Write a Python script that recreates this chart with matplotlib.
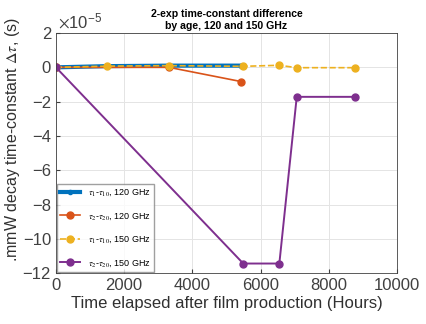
import matplotlib
matplotlib.use('Agg')
import matplotlib.pyplot as plt

plt.rcParams['font.family'] = ['Liberation Sans', 'DejaVu Sans']
plt.rcParams['mathtext.fontset'] = 'stix'

# hours after film production
t120 = [0, 1500, 3314, 5430]
t120_b = [0, 3314, 5430]
t150 = [0, 1500, 3314, 5490, 6548, 7058, 8768]
t150_b = [0, 5490, 6548, 7058, 8768]

# time-constant differences, units of 1e-5 s
d1_120 = [0.0, 0.07, 0.1, 0.1]
d2_120 = [0.0, 0.0, -0.83]
d1_150 = [0.0, 0.07, 0.1, 0.06, 0.12, -0.02, -0.02]
d2_150 = [0.0, -11.44, -11.44, -1.72, -1.72]

labels = [r'$\tau_1$-$\tau_{10}$, 120 GHz',
          r'$\tau_2$-$\tau_{20}$, 120 GHz',
          r'$\tau_1$-$\tau_{10}$, 150 GHz',
          r'$\tau_2$-$\tau_{20}$, 150 GHz']

fig = plt.figure(figsize=(4.27, 3.24), dpi=100)
ax = fig.add_axes([0.131, 0.157, 0.799, 0.741])

ax.plot(t120, d1_120, '-o', color='#0072BD', lw=3, ms=3, label=labels[0])
ax.plot(t120_b, d2_120, '-o', color='#D95319', lw=1.2, ms=5, label=labels[1])
ax.plot(t150, d1_150, '--o', color='#EDB120', lw=1.2, ms=5, label=labels[2])
ax.plot(t150_b, d2_150, '-o', color='#7E2F8E', lw=1.4, ms=5, label=labels[3])

ax.set_xlim(0, 10000)
ax.set_ylim(-12, 2)
ax.set_xticks(range(0, 10001, 2000))
ax.set_yticks(range(-12, 3, 2))
ax.text(0.005, 1.01, r'$\times\mathregular{10^{-5}}$', transform=ax.transAxes, fontsize=12,
        color='#404040', ha='left', va='bottom')

ax.grid(True, color='#e4e4e4', lw=0.7)
ax.set_axisbelow(True)
ax.tick_params(direction='in', labelsize=12, colors='#404040', length=3)
for s in ax.spines.values():
    s.set_color('#404040')
    s.set_linewidth(0.6)

ax.set_xlabel('Time elapsed after film production (Hours)', fontsize=12, color='#303030', labelpad=2)
ax.set_ylabel(r'.mmW decay time-constant $\Delta\tau$, (s)', fontsize=11.5, color='#303030', labelpad=0)
ax.yaxis.set_label_coords(-0.1, 0.555)
ax.set_title('2-exp time-constant difference\nby age, 120 and 150 GHz',
             fontsize=7.6, fontweight='bold', pad=3)

leg = ax.legend(loc='lower left', fontsize=6.5, borderaxespad=0.1, handlelength=2.2,
                labelspacing=1.45, frameon=True, fancybox=False, edgecolor='#888888')

fig.savefig('out.png', dpi=100)
